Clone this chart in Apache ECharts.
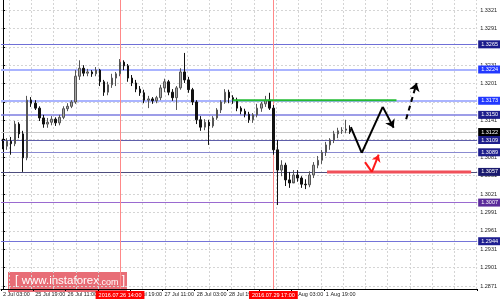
<!DOCTYPE html>
<html><head><meta charset="utf-8">
<script src="https://cdn.jsdelivr.net/npm/echarts@6/dist/echarts.min.js"></script>
<style>html,body{margin:0;padding:0;background:#fff}#c{width:500px;height:300px}</style>
</head><body><div id="c"></div>
<script>
// ---- data ----
const xLabels = ['2 Jul 03:00','25 Jul 19:00','26 Jul 11:00','27 Jul 03:00','26 Jul 19:00','27 Jul 11:00','28 Jul 03:00','28 Jul 19:00','29 Jul 11:00','1 Aug 03:00','1 Aug 19:00'];
const yTicks = [1.3321,1.3291,1.3261,1.3231,1.3201,1.3171,1.3141,1.3111,1.3081,1.3051,1.3021,1.2991,1.2961,1.2931,1.2901,1.2871];
const yMin = 1.28661, yMax = 1.33373;
const open  = [1.3104,1.3099,1.3107,1.3103,1.3135,1.3119,1.3080,1.3174,1.3169,1.3161,1.3145,1.3135,1.3138,1.3143,1.3137,1.3146,1.3160,1.3164,1.3171,1.3213,1.3226,1.3218,1.3220,1.3217,1.3223,1.3204,1.3187,1.3199,1.3210,1.3217,1.3236,1.3230,1.3210,1.3202,1.3192,1.3186,1.3174,1.3176,1.3173,1.3178,1.3194,1.3204,1.3187,1.3178,1.3194,1.3220,1.3207,1.3191,1.3171,1.3142,1.3130,1.3138,1.3132,1.3145,1.3158,1.3171,1.3187,1.3178,1.3174,1.3161,1.3156,1.3151,1.3142,1.3150,1.3161,1.3168,1.3174,1.3161,1.3093,1.3060,1.3068,1.3044,1.3039,1.3052,1.3047,1.3037,1.3036,1.3052,1.3068,1.3076,1.3089,1.3101,1.3109,1.3119,1.3124,1.3125,1.3127];
const close = [1.3099,1.3107,1.3103,1.3135,1.3119,1.3080,1.3174,1.3169,1.3161,1.3145,1.3135,1.3138,1.3143,1.3137,1.3146,1.3160,1.3164,1.3171,1.3213,1.3226,1.3218,1.3220,1.3217,1.3223,1.3204,1.3187,1.3199,1.3210,1.3217,1.3236,1.3230,1.3210,1.3202,1.3192,1.3186,1.3174,1.3176,1.3173,1.3178,1.3194,1.3204,1.3187,1.3178,1.3194,1.3220,1.3207,1.3191,1.3171,1.3142,1.3130,1.3138,1.3132,1.3145,1.3158,1.3171,1.3187,1.3178,1.3174,1.3161,1.3156,1.3151,1.3142,1.3150,1.3161,1.3168,1.3174,1.3161,1.3093,1.3060,1.3068,1.3044,1.3039,1.3052,1.3047,1.3037,1.3036,1.3052,1.3068,1.3076,1.3089,1.3101,1.3109,1.3119,1.3124,1.3125,1.3127,1.3122];
const low   = [1.3094,1.3093,1.3085,1.3099,1.3112,1.3057,1.3076,1.3163,1.3158,1.3140,1.3129,1.3129,1.3133,1.3132,1.3133,1.3143,1.3156,1.3161,1.3168,1.3207,1.3213,1.3213,1.3212,1.3213,1.3197,1.3181,1.3182,1.3194,1.3197,1.3213,1.3223,1.3204,1.3197,1.3187,1.3181,1.3169,1.3161,1.3168,1.3169,1.3174,1.3187,1.3182,1.3173,1.3158,1.3191,1.3202,1.3186,1.3166,1.3135,1.3124,1.3125,1.3101,1.3129,1.3142,1.3153,1.3168,1.3169,1.3168,1.3156,1.3151,1.3146,1.3137,1.3137,1.3146,1.3155,1.3163,1.3158,1.3085,1.3003,1.3050,1.3034,1.3031,1.3041,1.3041,1.3031,1.3029,1.3032,1.3047,1.3063,1.3070,1.3083,1.3093,1.3104,1.3112,1.3119,1.3120,1.3119];
const high  = [1.3111,1.3112,1.3114,1.3140,1.3138,1.3124,1.3181,1.3179,1.3174,1.3164,1.3150,1.3145,1.3148,1.3146,1.3150,1.3164,1.3169,1.3174,1.3223,1.3239,1.3231,1.3225,1.3223,1.3228,1.3225,1.3207,1.3204,1.3217,1.3220,1.3241,1.3239,1.3233,1.3215,1.3207,1.3197,1.3191,1.3181,1.3179,1.3181,1.3199,1.3209,1.3207,1.3192,1.3197,1.3226,1.3251,1.3212,1.3194,1.3174,1.3148,1.3143,1.3142,1.3148,1.3161,1.3174,1.3192,1.3191,1.3182,1.3178,1.3164,1.3160,1.3155,1.3153,1.3168,1.3171,1.3181,1.3186,1.3166,1.3109,1.3076,1.3072,1.3057,1.3060,1.3060,1.3050,1.3045,1.3058,1.3073,1.3083,1.3093,1.3106,1.3112,1.3124,1.3129,1.3130,1.3142,1.3133];
const levelValues = [1.3265,1.3224,1.3173,1.3150,1.3109,1.3089,1.3057,1.3007,1.2944];
const currentPrice = 1.3122;
const markerIdx = [29, 67];
const markerTexts = ['2016.07.26 14:00','2016.07.29 17:00'];
const greenLine = [[56.9,1.3174],[97.5,1.3174]];
const redLine = [[80.3,1.3057],[116,1.3057]];
const blackPath = [[86.2,1.3130],[88.9,1.3088],[94.1,1.3163],[96.8,1.3129]];
const dashedPath = [[99.9,1.3143],[102.5,1.3202]];
const redPath = [[89.7,1.3073],[91.4,1.3057],[93.1,1.3085]];
const nCats = 118;

// ---- styles ----
const levelLineColors = ['#6f6fd6','#aab4ff','#aab4ff','#7c7ce0','#5e5eaa','#8a8ad0','#4e4e7e','#9a6ad0','#7474d8'];
const levelLineWidths = [1,2,2,1.5,1,1,1,1,1];
const levelBoxColors = ['#1c1c8c','#2238ff','#2238ff','#1e1e8c','#1e1e8c','#1e1e8c','#1a1a6e','#5a2a9a','#1e1e90'];
const vGridStart = 1.47, vGridStep = 5.52, vGridCount = 22;   // vertical grid spacing, in bar units
const F = '"Liberation Sans", Arial, sans-serif';

const categories = Array.from({length: nCats}, (_, i) => String(i));
const candles = open.map((o, i) => [o, close[i], low[i], high[i]]);
const segs = p => p.slice(0, -1).map((c, i) => ({coords: [c, p[i + 1]]}));
const boxLabel = (bg, txt) => ({show:true, position:'end', distance:1, formatter: txt, backgroundColor:bg, color:'#fff', fontSize:5.5, fontFamily:F, padding:[1,3,1,3]});
const dashStyle = {color:'#d4d4d4', type:[2,2], width:1};

const gridMarks = yTicks.map(v => ({yAxis: v, lineStyle: dashStyle, label:{show:false}}));
const vGridMarks = Array.from({length: vGridCount}, (_, k) => ({xAxis: vGridStart + vGridStep * k, lineStyle: dashStyle, label:{show:false}}));
const levelMarks = levelValues.map((v, i) => ({yAxis: v, lineStyle:{color:levelLineColors[i], width:levelLineWidths[i], type:'solid'}, label: boxLabel(levelBoxColors[i], v.toFixed(4))}));
const priceMark = [{yAxis: currentPrice, lineStyle:{color:'#c8c8c8', width:1, type:'solid'}, label: boxLabel('#000', currentPrice.toFixed(4))}];
const timeMarks = markerIdx.map((ix, i) => ({xAxis: ix, lineStyle:{color:'#ff8888', width:1, type:'solid'}, label:{show:true, position:'start', distance:2, formatter: markerTexts[i], backgroundColor:'#ff0000', color:'#fff', fontSize:5.5, fontFamily:F, padding:[1,3,1,3]}}));

const chart = echarts.init(document.getElementById('c'));
chart.setOption({
  animation: false,
  backgroundColor: '#fff',
  grid: {left: 0, right: 22, top: 0, bottom: 11, containLabel: false},
  xAxis: [
    {type:'category', data: categories, boundaryGap: true,
     axisLine:{show:true, lineStyle:{color:'#000', width:1}},
     axisTick:{show:true, length:2, interval:(i) => i % 8 === 0 && i / 8 < xLabels.length, lineStyle:{color:'#000'}},
     axisLabel:{show:true, interval:(i) => i % 8 === 0 && i / 8 < xLabels.length, formatter:(v, i) => (i % 8 === 0 ? (xLabels[i / 8] || '') : ''), align:'left', margin:2, fontSize:5.5, fontFamily:F, color:'#222'},
     splitLine:{show:false}},
    {type:'value', min:-0.5, max:nCats - 0.5, show:false, splitLine:{show:false}}
  ],
  yAxis: {type:'value', position:'right', min:yMin, max:yMax,
    axisLine:{show:true, lineStyle:{color:'#000', width:1}},
    axisTick:{show:true, length:2, customValues: yTicks, lineStyle:{color:'#000'}},
    axisLabel:{show:true, customValues: yTicks, formatter:(v) => v.toFixed(4), margin:3, fontSize:5.5, fontFamily:F, color:'#222'},
    splitLine:{show:false}},
  graphic: [{type:'group', left:8, top:272, z:100, children:[
    {type:'rect', shape:{x:0, y:0, width:119, height:20}, style:{fill:'rgba(226,72,84,0.8)'}},
    {type:'text', x:7, y:3, style:{text:'{b|[ }{a|www.instaforex}{c|.com}{b| ]}', rich:{
      a:{fontSize:11.5, fill:'#fff', fontFamily:F},
      b:{fontSize:12, fill:'#fff', fontFamily:F},
      c:{fontSize:9, fill:'#fff', fontFamily:F, verticalAlign:'bottom'}}}}
  ]}],
  series: [
    {type:'line', xAxisIndex:1, yAxisIndex:0, data: greenLine, symbol:'none', silent:true, z:1, lineStyle:{width:0, opacity:0},
     markLine:{silent:true, precision:5, z:1, symbol:['none','none'], animation:false, data: gridMarks.concat(vGridMarks, priceMark, levelMarks)}},
    {type:'candlestick', xAxisIndex:0, yAxisIndex:0, data: candles, barWidth: 2, z:2,
     itemStyle:{color:'#a8a8a8', color0:'#111', borderColor:'#555', borderColor0:'#111', borderWidth:1},
     markLine:{silent:true, precision:5, z:1, symbol:['none','none'], animation:false, data: timeMarks}},
    {type:'line', xAxisIndex:1, yAxisIndex:0, data: greenLine, symbol:'none', lineStyle:{color:'#22bb33', width:2}, z:3},
    {type:'line', xAxisIndex:1, yAxisIndex:0, data: redLine, symbol:'none', lineStyle:{color:'#f0505a', width:3}, z:3},
    {type:'lines', coordinateSystem:'cartesian2d', xAxisIndex:1, yAxisIndex:0, symbol:'none', z:4,
     lineStyle:{color:'#000', width:2, opacity:1}, data: segs(blackPath).slice(0, -1)},
    {type:'lines', coordinateSystem:'cartesian2d', xAxisIndex:1, yAxisIndex:0, symbol:['none','arrow'], symbolSize:8, z:4,
     lineStyle:{color:'#000', width:2, opacity:1}, data: segs(blackPath).slice(-1)},
    {type:'lines', coordinateSystem:'cartesian2d', xAxisIndex:1, yAxisIndex:0, symbol:['none','arrow'], symbolSize:8, z:4,
     lineStyle:{color:'#000', width:2, type:[5,4], opacity:1}, data: segs(dashedPath)},
    {type:'lines', coordinateSystem:'cartesian2d', xAxisIndex:1, yAxisIndex:0, symbol:'none', z:4,
     lineStyle:{color:'#ff1a1a', width:2, opacity:1}, data: segs(redPath).slice(0, -1)},
    {type:'lines', coordinateSystem:'cartesian2d', xAxisIndex:1, yAxisIndex:0, symbol:['none','arrow'], symbolSize:7, z:4,
     lineStyle:{color:'#ff1a1a', width:2, opacity:1}, data: segs(redPath).slice(-1)}
  ]
});
</script></body></html>
